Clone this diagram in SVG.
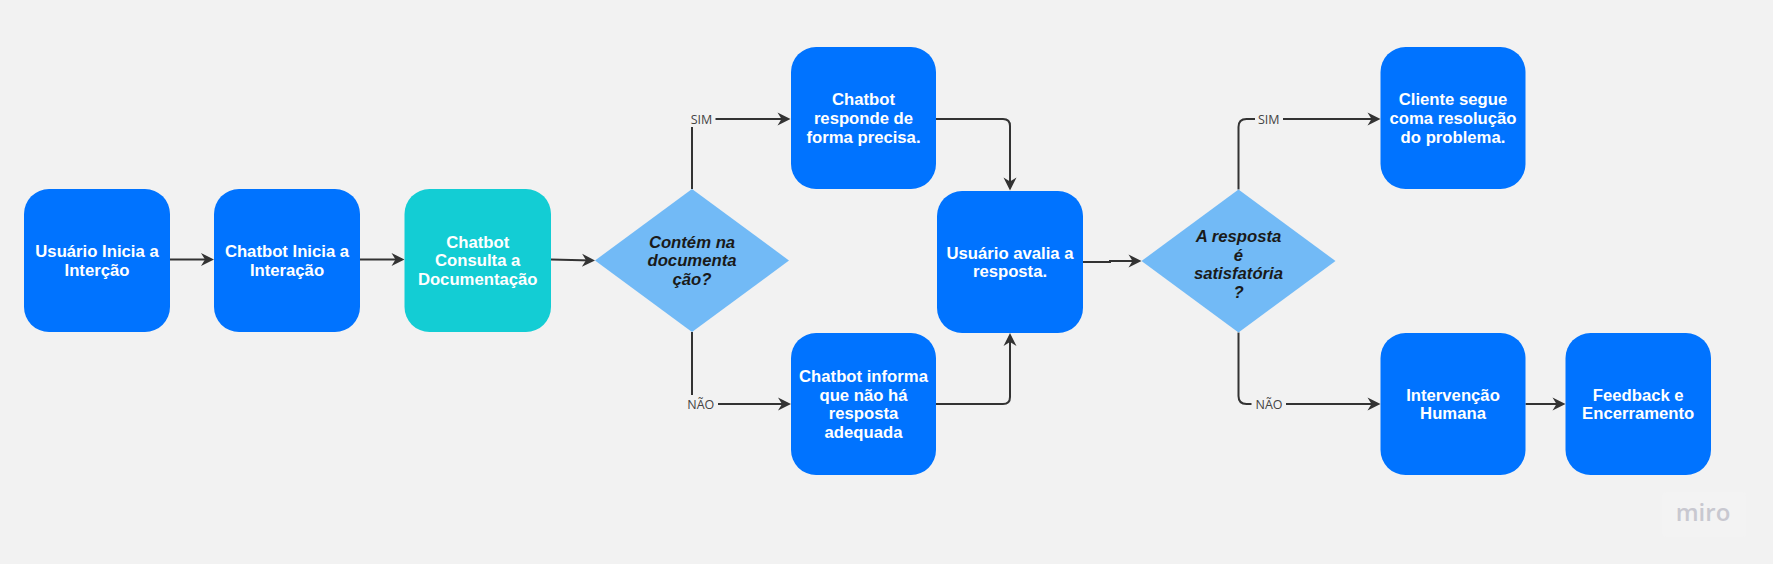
<svg xmlns="http://www.w3.org/2000/svg" width="1773" height="564" viewBox="0 0 1773 564">
<style>
.bg{fill:#f2f2f2}
.box{fill:#0073ff}
.teal{fill:#13cdd4}
.dia{fill:#72baf6}
.t{font-family:"Liberation Sans",Arial,sans-serif;font-weight:bold;font-size:16.7px;fill:#ffffff;text-anchor:middle}
.dt{font-family:"Liberation Sans",Arial,sans-serif;font-weight:bold;font-style:italic;font-size:16.7px;fill:#1a1a1a;text-anchor:middle}
.c{fill:none;stroke:#333333;stroke-width:2}
.lbl{font-family:"Open Sans","Liberation Sans",sans-serif;font-size:12.5px;fill:#444444;text-anchor:middle}
.lbg{fill:#f2f2f2}
</style>
<defs>
<marker id="ah" viewBox="-11 -8 15 16" markerWidth="15" markerHeight="16" refX="0" refY="0" orient="auto" markerUnits="userSpaceOnUse">
<path d="M-10,-6.5 L3,0 L-10,6.5 L-6,0 Z" fill="#333333"/>
</marker>
</defs>
<rect class="bg" x="0" y="0" width="1773" height="564"/>

<g id="connectors">
<path class="c" d="M170,259.5 H211" marker-end="url(#ah)"/>
<path class="c" d="M360,259.5 H401.5" marker-end="url(#ah)"/>
<path class="c" d="M551,259.5 L592,260.5" marker-end="url(#ah)"/>
<path class="c" d="M692,189 V119 H787.5" marker-end="url(#ah)"/>
<path class="c" d="M692,332 V404 H788" marker-end="url(#ah)"/>
<path class="c" d="M936,119 H1003 Q1010,119 1010,126 V187.5" marker-end="url(#ah)"/>
<path class="c" d="M936,404 H1003 Q1010,404 1010,397 V336" marker-end="url(#ah)"/>
<path class="c" d="M1083,262 H1110 V261 H1138.5" marker-end="url(#ah)"/>
<path class="c" d="M1238.5,189.5 V127 Q1238.5,119 1246.5,119 H1377.5" marker-end="url(#ah)"/>
<path class="c" d="M1238.5,332.5 V396 Q1238.5,404 1246.5,404 H1377.5" marker-end="url(#ah)"/>
<path class="c" d="M1525.5,404 H1562.5" marker-end="url(#ah)"/>
<rect class="lbg" x="688" y="111" width="27.5" height="16"/>
<text class="lbl" x="701.5" y="123.5">SIM</text>
<rect class="lbg" x="686" y="395" width="32" height="17"/>
<text class="lbl" x="700.8" y="408.5">NÃO</text>
<rect class="lbg" x="1255" y="111" width="28" height="16"/>
<text class="lbl" x="1268.8" y="123.5">SIM</text>
<rect class="lbg" x="1251.5" y="395" width="34.5" height="17"/>
<text class="lbl" x="1269" y="408.5">NÃO</text>
</g>

<g id="n1">
<rect class="box" x="24" y="189" width="146" height="143" rx="25"/>
<text class="t" x="97" y="257"><tspan x="97">Usuário Inicia a</tspan><tspan x="97" dy="18.7">Interção</tspan></text>
</g>
<g id="n2">
<rect class="box" x="214" y="189" width="146" height="143" rx="25"/>
<text class="t" x="287" y="257"><tspan x="287">Chatbot Inicia a</tspan><tspan x="287" dy="18.7">Interação</tspan></text>
</g>
<g id="n3">
<rect class="teal" x="404.5" y="189" width="146.5" height="143" rx="25"/>
<text class="t" x="477.7" y="247.6"><tspan x="477.7">Chatbot</tspan><tspan x="477.7" dy="18.7">Consulta a</tspan><tspan x="477.7" dy="18.7">Documentação</tspan></text>
</g>
<g id="d1">
<polygon class="dia" points="595,260.5 692,189 789,260.5 692,332"/>
<text class="dt" x="692" y="248"><tspan x="692">Contém na</tspan><tspan x="692" dy="18.4">documenta</tspan><tspan x="692" dy="18.4">ção?</tspan></text>
</g>
<g id="n4">
<rect class="box" x="791" y="47" width="145" height="142" rx="25"/>
<text class="t" x="863.5" y="105.1"><tspan x="863.5">Chatbot</tspan><tspan x="863.5" dy="18.7">responde de</tspan><tspan x="863.5" dy="18.7">forma precisa.</tspan></text>
</g>
<g id="n5">
<rect class="box" x="791" y="333" width="145" height="142" rx="25"/>
<text class="t" x="863.5" y="381.8"><tspan x="863.5">Chatbot informa</tspan><tspan x="863.5" dy="18.7">que não há</tspan><tspan x="863.5" dy="18.7">resposta</tspan><tspan x="863.5" dy="18.7">adequada</tspan></text>
</g>
<g id="n6">
<rect class="box" x="937" y="191" width="146" height="142" rx="25"/>
<text class="t" x="1010" y="258.5"><tspan x="1010">Usuário avalia a</tspan><tspan x="1010" dy="18.7">resposta.</tspan></text>
</g>
<g id="d2">
<polygon class="dia" points="1141.5,261 1238.5,189.5 1335.5,261 1238.5,332.5"/>
<text class="dt" x="1238.5" y="242.3"><tspan x="1238.5">A resposta</tspan><tspan x="1238.5" dy="18.5">é</tspan><tspan x="1238.5" dy="18.5">satisfatória</tspan><tspan x="1238.5" dy="18.5">?</tspan></text>
</g>
<g id="n7">
<rect class="box" x="1380.5" y="47" width="145" height="142" rx="25"/>
<text class="t" x="1453" y="105.1"><tspan x="1453">Cliente segue</tspan><tspan x="1453" dy="18.7">coma resolução</tspan><tspan x="1453" dy="18.7">do problema.</tspan></text>
</g>
<g id="n8">
<rect class="box" x="1380.5" y="333" width="145" height="142" rx="25"/>
<text class="t" x="1453" y="400.5"><tspan x="1453">Intervenção</tspan><tspan x="1453" dy="18.7">Humana</tspan></text>
</g>
<g id="n9">
<rect class="box" x="1565.5" y="333" width="145.5" height="142" rx="25"/>
<text class="t" x="1638.2" y="400.5"><tspan x="1638.2">Feedback e</tspan><tspan x="1638.2" dy="18.7">Encerramento</tspan></text>
</g>

<g id="watermark">
<rect x="1662.5" y="492.5" width="83.5" height="44" rx="3" fill="#f3f3f3"/>
<text x="1703" y="520.7" font-family="'Open Sans','Liberation Sans',sans-serif" font-weight="600" font-size="24" fill="#c8c8d0" text-anchor="middle">miro</text>
</g>
</svg>
